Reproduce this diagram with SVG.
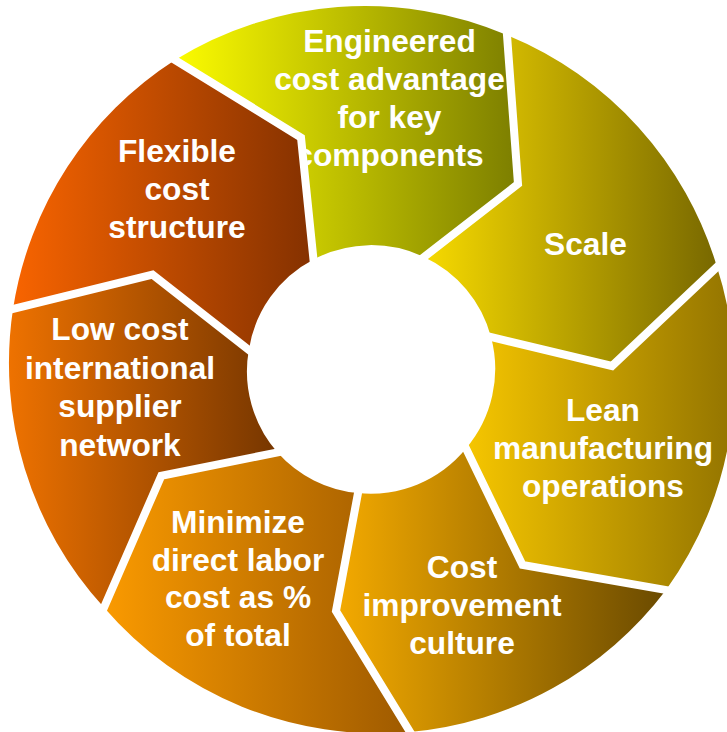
<svg xmlns="http://www.w3.org/2000/svg" width="727" height="732" viewBox="0 0 727 732">
<defs>
<linearGradient id="gEng"><stop offset="0" stop-color="#FCFC00"/><stop offset="1" stop-color="#7C7E00"/></linearGradient>
<linearGradient id="gScale"><stop offset="0" stop-color="#F7DA00"/><stop offset="1" stop-color="#786800"/></linearGradient>
<linearGradient id="gLean"><stop offset="0" stop-color="#F6C600"/><stop offset="1" stop-color="#937400"/></linearGradient>
<linearGradient id="gCost"><stop offset="0" stop-color="#F4AA00"/><stop offset="1" stop-color="#6A4A00"/></linearGradient>
<linearGradient id="gMin"><stop offset="0" stop-color="#FA9A00"/><stop offset="1" stop-color="#9E5A00"/></linearGradient>
<linearGradient id="gLow"><stop offset="0" stop-color="#EE7200"/><stop offset="1" stop-color="#763600"/></linearGradient>
<linearGradient id="gFlex"><stop offset="0" stop-color="#F86400"/><stop offset="1" stop-color="#843100"/></linearGradient>
</defs>
<style>
text{font-family:"Liberation Sans",Arial,sans-serif;font-weight:bold;font-size:31.7px;fill:#fff;text-anchor:middle}
.gap{fill:none;stroke:#fff;stroke-width:8;stroke-linejoin:miter;stroke-miterlimit:10}
</style>
<g id="engineered">
<path fill="url(#gEng)" d="M175,60 A362,362 0 0 1 507,35 L518,184 L424,257 A123,123 0 0 0 313.5,259.5 L301,137.5 Z"/>
<text x="389.5" y="52">Engineered</text>
<text x="389.5" y="90">cost advantage</text>
<text x="389.5" y="128">for key</text>
<text x="389.5" y="166">components</text>
</g>
<g id="scale">
<path fill="url(#gScale)" d="M507,35 A362,362 0 0 1 717,267 L612,366 L491,337 A123,123 0 0 0 424,257 L518,184 Z"/>
<text x="585.5" y="255">Scale</text>
</g>
<g id="lean">
<path fill="url(#gLean)" d="M717,267 A362,362 0 0 1 666,590 L522.5,565 L466,448.5 A123,123 0 0 0 491,337 L612,366 Z"/>
<text x="603" y="421">Lean</text>
<text x="603" y="459">manufacturing</text>
<text x="603" y="497">operations</text>
</g>
<g id="cost-improvement">
<path fill="url(#gCost)" d="M666,590 A362,362 0 0 1 410,732 L336,611 L358,493 A123,123 0 0 0 466,448.5 L522.5,565 Z"/>
<text x="462" y="578">Cost</text>
<text x="462" y="616">improvement</text>
<text x="462" y="654">culture</text>
</g>
<g id="minimize">
<path fill="url(#gMin)" d="M410,732 A362,362 0 0 1 104,607.5 L161.3,475.8 L277.5,452.5 A123,123 0 0 0 358,493 L336,611 Z"/>
<text x="238" y="533">Minimize</text>
<text x="238" y="570.5">direct labor</text>
<text x="238" y="608">cost as %</text>
<text x="238" y="645.5">of total</text>
</g>
<g id="low-cost">
<path fill="url(#gLow)" d="M104,607.5 A362,362 0 0 1 13,309 L152.5,274.5 L248.8,350 A123,123 0 0 0 277.5,452.5 L161.3,475.8 Z"/>
<text x="120" y="340">Low cost</text>
<text x="120" y="378.5">international</text>
<text x="120" y="417">supplier</text>
<text x="120" y="455.5">network</text>
</g>
<g id="flexible">
<path fill="url(#gFlex)" d="M13,309 A362,362 0 0 1 175,60 L301,137.5 L313.5,259.5 A123,123 0 0 0 248.8,350 L152.5,274.5 Z"/>
<text x="177" y="162">Flexible</text>
<text x="177" y="200">cost</text>
<text x="177" y="238">structure</text>
</g>
<g id="connectors">
<polyline class="gap" points="168.2,55.8 301,137.5 314.3,267.5"/>
<polyline class="gap" points="506.4,27 518,184 417.7,261.9"/>
<polyline class="gap" points="722.8,261.5 612,366 483.2,335.1"/>
<polyline class="gap" points="673.9,591.4 522.5,565 462.5,441.3"/>
<polyline class="gap" points="414.2,738.8 336,611 359.5,485.1"/>
<polyline class="gap" points="100.8,614.8 161.3,475.8 285.3,450.9"/>
<polyline class="gap" points="5.2,310.9 152.5,274.5 255.1,354.9"/>
</g>
</svg>
